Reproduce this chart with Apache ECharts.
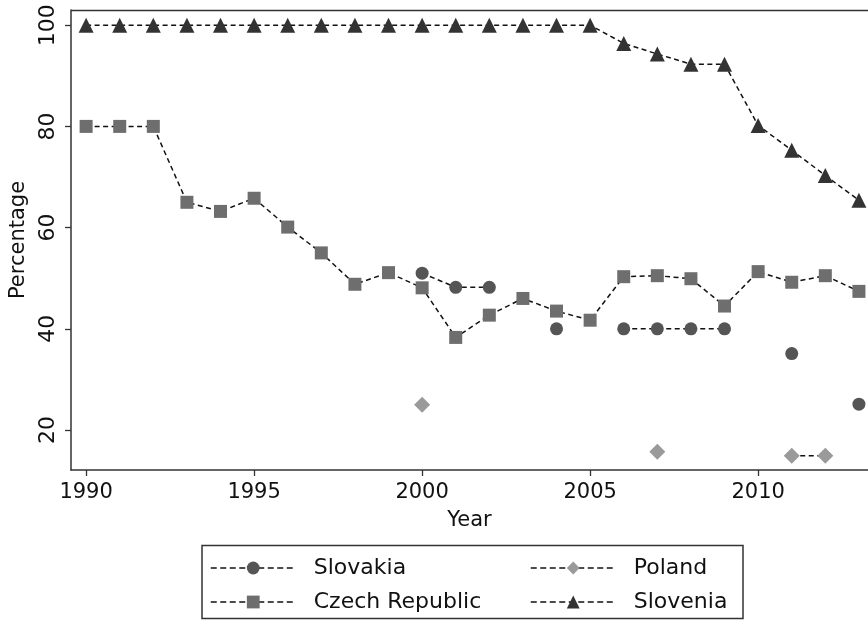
<!DOCTYPE html>
<html><head><meta charset="utf-8">
<script src="https://cdn.jsdelivr.net/npm/echarts@6/dist/echarts.min.js"></script>
<style>html,body{margin:0;padding:0;background:#fff}#c{width:868px;height:621px}</style>
</head><body><div id="c"></div>
<script>
const years = [1990,1991,1992,1993,1994,1995,1996,1997,1998,1999,2000,2001,2002,2003,2004,2005,2006,2007,2008,2009,2010,2011,2012,2013];
const slovakia = [null,null,null,null,null,null,null,null,null,null,51,48.2,48.2,null,40,null,40,40,40,40,null,35.1,null,25.1];
const czech = [80,80,80,65,63.2,65.8,60.1,55,48.8,51.1,48.1,38.3,42.7,46,43.5,41.7,50.3,50.5,49.9,44.5,51.3,49.2,50.5,47.4];
const poland = [null,null,null,null,null,null,null,null,null,null,25,null,null,null,null,null,null,15.7,null,null,null,14.9,14.9,null];
const slovenia = [100,100,100,100,100,100,100,100,100,100,100,100,100,100,100,100,96.4,94.3,92.3,92.3,80.2,75.3,70.3,65.4];
const xTicks = [1990,1995,2000,2005,2010];
const yTicks = [20,40,60,80,100];

const font = 'DejaVu Sans';
const pairs = arr => years.map((y,i)=>[y, arr[i]==null ? null : arr[i]]);
function mk(name, arr, symbol, size, color){
  return {name, type:'line', data:pairs(arr), symbol, symbolSize:size,
    itemStyle:{color}, lineStyle:{type:[5,3.5], width:1.5, color:'#111'},
    connectNulls:false, showSymbol:true, showAllSymbol:true, z:3};
}
const legendBase = {orient:'vertical', top:557, padding:0, itemWidth:85, itemHeight:16, itemGap:12,
  lineStyle:{type:[6,3.5], width:1.5, color:'#111'},
  textStyle:{fontFamily:font, fontSize:22, lineHeight:22, color:'#111', padding:[0,0,0,13]}};
const chart = echarts.init(document.getElementById('c'), null, {renderer:'canvas'});
chart.setOption({
  animation:false,
  backgroundColor:'#fff',
  grid:{left:71, top:10, right:0, bottom:151, show:false},
  xAxis:{type:'value', min:1989.55, max:2013.27,
    name:'Year', nameLocation:'middle', nameGap:40,
    nameTextStyle:{fontFamily:font, fontSize:21, color:'#111'},
    axisLine:{show:true, lineStyle:{color:'#333', width:1.5}},
    axisTick:{show:true, length:6, customValues:xTicks, lineStyle:{color:'#333', width:1.3}},
    axisLabel:{customValues:xTicks, formatter:v=>String(Math.round(v)), margin:12, fontFamily:font, fontSize:21, color:'#111'},
    splitLine:{show:false}},
  yAxis:{type:'value', min:12.1, max:103,
    name:'Percentage', nameLocation:'middle', nameGap:40, nameRotate:90,
    nameTextStyle:{fontFamily:font, fontSize:21, color:'#111'},
    axisLine:{show:true, lineStyle:{color:'#333', width:1.5}},
    axisTick:{show:true, length:6, customValues:yTicks, lineStyle:{color:'#333', width:1.3}},
    axisLabel:{customValues:yTicks, formatter:v=>String(Math.round(v)), rotate:90, margin:12, fontFamily:font, fontSize:22, color:'#111'},
    splitLine:{show:false}},
  legend:[
    Object.assign({}, legendBase, {data:['Slovakia','Czech Republic'], left:210}),
    Object.assign({}, legendBase, {data:['Poland','Slovenia'], left:530})
  ],
  graphic:[
    {type:'line', shape:{x1:71, y1:10.5, x2:868, y2:10.5}, style:{stroke:'#333', lineWidth:1.5}, silent:true},
    {type:'rect', shape:{x:202, y:545.5, width:541, height:73}, style:{fill:'none', stroke:'#333', lineWidth:1.5}, silent:true}
  ],
  series:[
    mk('Slovakia', slovakia, 'circle', 13, '#555555'),
    mk('Czech Republic', czech, 'rect', 13, '#6e6e6e'),
    mk('Poland', poland, 'diamond', 16, '#9a9a9a'),
    mk('Slovenia', slovenia, 'triangle', 15, '#333333')
  ]
});
</script></body></html>
